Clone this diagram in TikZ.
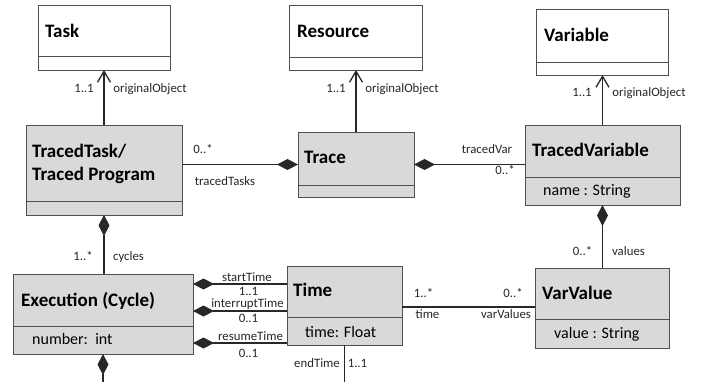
\documentclass[tikz,border=0pt]{standalone}
\usepackage{fontspec}
\setmainfont{Carlito}
\usetikzlibrary{arrows.meta}
\definecolor{boxfill}{RGB}{217,217,217}
\definecolor{boxline}{RGB}{80,80,80}
\definecolor{linkline}{RGB}{40,40,40}
\tikzset{
  umlclass/.style={draw=boxline, line width=0.9pt, anchor=north west, inner sep=0pt, outer sep=0pt},
  refclass/.style={umlclass, fill=white},
  tracedclass/.style={umlclass, fill=boxfill},
  divider/.style={draw=boxline, line width=0.9pt},
  classname/.style={anchor=base west, inner sep=0pt, align=left, font=\fontsize{19}{23}\selectfont\bfseries},
  attr/.style={anchor=base west, inner sep=0pt, font=\fontsize{16}{19}\selectfont},
  role/.style={anchor=base, inner sep=0pt, font=\fontsize{12.8}{15}\selectfont, text=black!85},
  link/.style={draw=linkline, line width=1.3pt},
  navig/.style={link, -{Straight Barb[length=11pt,width=13pt]}},
  compos/.style={link, {Diamond[length=21pt,width=11pt]}-},
}
\begin{document}
\begin{tikzpicture}[x=1pt,y=-1pt]
  \useasboundingbox (0,0) rectangle (705,381);
  \clip (0,0) rectangle (705,381);
  % classes
  \node[refclass, minimum width=132pt, minimum height=65pt] (task) at (38,5) {};
  \node[refclass, minimum width=133pt, minimum height=65pt] (resource) at (289,5) {};
  \node[refclass, minimum width=132pt, minimum height=66pt] (variable) at (536,9) {};
  \node[tracedclass, minimum width=156pt, minimum height=90pt] (ttask) at (26,125) {};
  \node[tracedclass, minimum width=116pt, minimum height=65pt] (trace) at (298,132) {};
  \node[tracedclass, minimum width=155pt, minimum height=80pt] (tvar) at (525,125) {};
  \node[tracedclass, minimum width=180pt, minimum height=80pt] (exec) at (13,274) {};
  \node[tracedclass, minimum width=115pt, minimum height=79pt] (time) at (287,266) {};
  \node[tracedclass, minimum width=134pt, minimum height=80pt] (varval) at (535,268) {};
  \foreach \c/\y in {task/56, resource/57, variable/62, ttask/201, trace/185,
                     tvar/177, exec/326, time/317, varval/319}
    \draw[divider] (\c.west |- 0,\y) -- (\c.east |- 0,\y);
  % names and attributes
  \node[classname] (tasktitle) at (45,37) {Task};
  \node[classname] (resourcetitle) at (297,37) {Resource};
  \node[classname] (variabletitle) at (544,41) {Variable};
  \node[classname] (ttasktitle) at (32,180) {TracedTask/\\Traced Program};
  \node[classname] (tracetitle) at (304,163) {Trace};
  \node[classname] (tvartitle) at (532,156) {TracedVariable};
  \node[classname] (exectitle) at (21,306) {Execution (Cycle)};
  \node[classname] (timetitle) at (293,296) {Time};
  \node[classname] (varvaltitle) at (542,299) {VarValue};
  \node[attr] (tvarattr) at (543,195) {name : String};
  \node[attr] (execattr) at (32,344) {number:\ \ int};
  \node[attr] (timeattr) at (305,337) {time: Float};
  \node[attr] (varvalattr) at (554,338) {value : String};
  % connectors
  \coordinate (execout) at (103,395);
  \coordinate (timeout) at (344.5,395);
  \draw[navig] (ttask.north) -- (ttask.north |- task.south);
  \draw[navig] (trace.north) -- (trace.north |- resource.south);
  \draw[navig] (tvar.north) -- (tvar.north |- variable.south);
  \draw[compos] (trace.west) -- (trace.west -| ttask.east);
  \draw[compos] (trace.east) -- (trace.east -| tvar.west);
  \draw[compos] (ttask.south) -- (ttask.south |- exec.north);
  \draw[compos] (tvar.south) -- (tvar.south |- varval.north);
  \draw[compos] (exec.south) -- (execout);
  \foreach \y in {284, 311, 343}
    \draw[compos] (exec.east |- 0,\y) -- (time.west |- 0,\y);
  \draw[link] (time.south) -- (timeout);
  \draw[link] ([yshift=-1.5pt]time.east) -- ([yshift=-1.5pt]time.east -| varval.west);
  % roles and multiplicities
  \node[role] (taskmult) at (84,92) {1..1};
  \node[role] (taskrole) at (150,92) {originalObject};
  \node[role] (resourcemult) at (336,92) {1..1};
  \node[role] (resourcerole) at (402,92) {originalObject};
  \node[role] (variablemult) at (582,96) {1..1};
  \node[role] (variablerole) at (649,96) {originalObject};
  \node[role] (ttaskmult) at (203,153) {0..*};
  \node[role] (ttaskrole) at (225,185) {tracedTasks};
  \node[role] (tvarrole) at (487,153) {tracedVar};
  \node[role] (tvarmult) at (505,174) {0..*};
  \node[role] (execmult) at (83,260) {1..*};
  \node[role] (execrole) at (128.5,260) {cycles};
  \node[role] (startrole) at (247,281) {startTime};
  \node[role] (startmult) at (248.5,295) {1..1};
  \node[role] (interruptrole) at (247.5,307) {interruptTime};
  \node[role] (interruptmult) at (248.5,322) {0..1};
  \node[role] (resumerole) at (250.5,340) {resumeTime};
  \node[role] (resumemult) at (248.5,357) {0..1};
  \node[role] (endrole) at (317,367) {endTime};
  \node[role] (endmult) at (357.5,367) {1..1};
  \node[role] (timemult) at (423.5,297) {1..*};
  \node[role] (timerole) at (427.5,318) {time};
  \node[role] (varvalmult) at (513,297) {0..*};
  \node[role] (varvalrole) at (506,318) {varValues};
  \node[role] (valuesmult) at (582.5,255) {0..*};
  \node[role] (valuesrole) at (628.5,255) {values};
\end{tikzpicture}
\end{document}
